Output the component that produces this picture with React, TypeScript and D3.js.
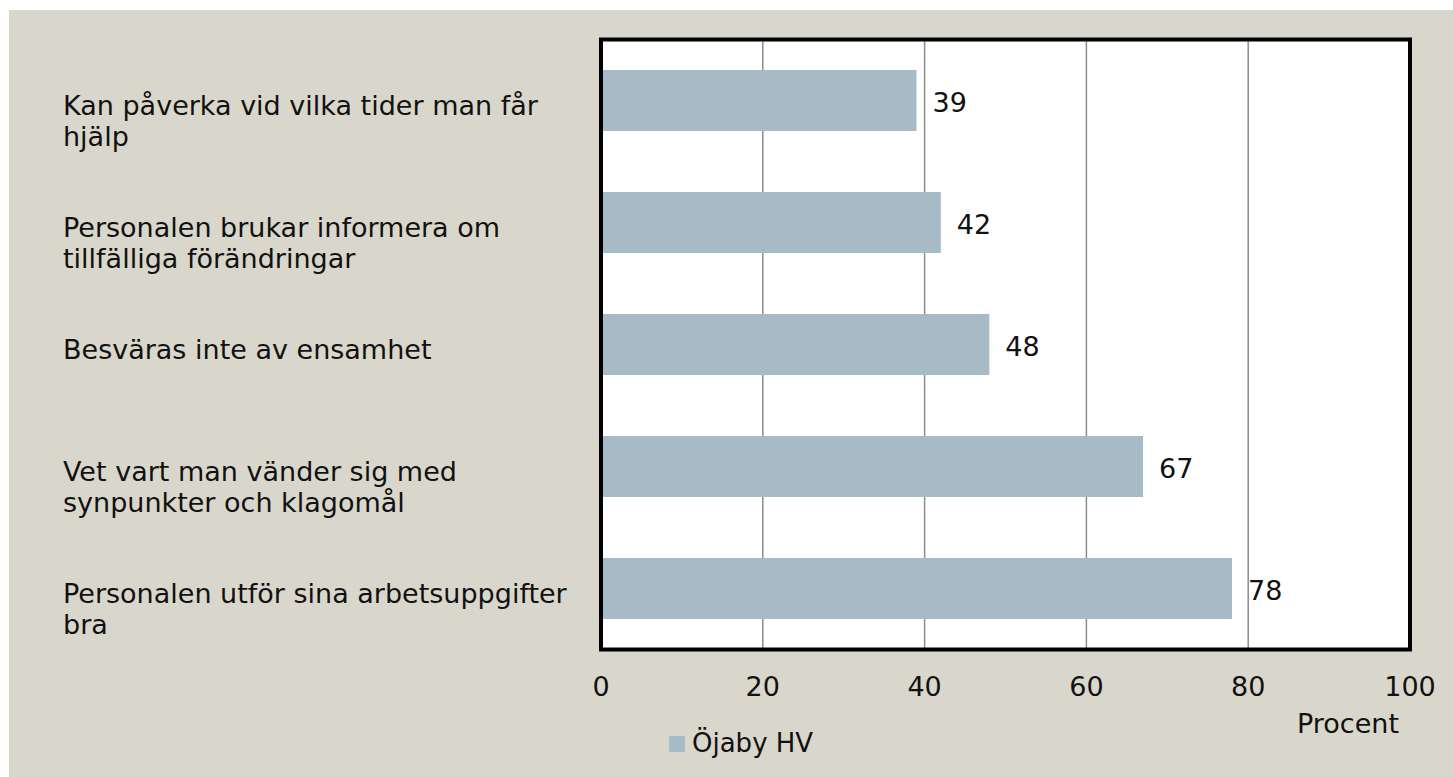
import { scaleBand, scaleLinear } from 'd3'

const categories = [
  'Kan påverka vid vilka tider man får hjälp',
  'Personalen brukar informera om tillfälliga förändringar',
  'Besväras inte av ensamhet',
  'Vet vart man vänder sig med synpunkter och klagomål',
  'Personalen utför sina arbetsuppgifter bra',
]
const categoryLines = [
  ['Kan påverka vid vilka tider man får', 'hjälp'],
  ['Personalen brukar informera om', 'tillfälliga förändringar'],
  ['Besväras inte av ensamhet'],
  ['Vet vart man vänder sig med', 'synpunkter och klagomål'],
  ['Personalen utför sina arbetsuppgifter', 'bra'],
]
const values = [39, 42, 48, 67, 78]
const ticks = [0, 20, 40, 60, 80, 100]
const seriesName = 'Öjaby HV'
const axisTitle = 'Procent'

export default function App() {
  const width = 1453
  const height = 777
  const font = 'DejaVu Sans, sans-serif'
  const left = 601
  const right = 1410
  const top = 39.5
  const bottom = 649.5

  const x = scaleLinear().domain([0, 100]).range([left, right])
  const y = scaleBand<string>().domain(categories).range([top, bottom]).paddingInner(0.5).paddingOuter(0.25)

  return (
    <div style={{ position: 'absolute', left: 0, top: 0 }}>
      <svg width={width} height={height} style={{ display: 'block', fontFamily: font }}>
        <rect x={9} y={10} width={width - 9} height={height - 10} fill="#d9d7cc" />
        <rect x={left} y={top} width={right - left} height={bottom - top} fill="#ffffff" />
        {ticks.slice(1, -1).map((t) => (
          <line key={t} x1={x(t)} x2={x(t)} y1={top} y2={bottom} stroke="#8c8c8c" strokeWidth={1.5} />
        ))}
        {categories.map((c, i) => (
          <rect key={c} x={x(0)} y={y(c)} width={x(values[i]) - x(0)} height={y.bandwidth()} fill="#a7bbc6" />
        ))}
        <rect x={left} y={top} width={right - left} height={bottom - top} fill="none" stroke="#000" strokeWidth={4} />
        {categories.map((c, i) => (
          <text key={c} x={x(values[i]) + 16} y={(y(c) ?? 0) + y.bandwidth() / 2 + 11} fontSize={27} fill="#111">
            {values[i]}
          </text>
        ))}
        {categories.map((c, i) => {
          const center = (y(c) ?? 0) + y.bandwidth() / 2
          return (
            <text key={c} x={63} y={center + 14} fontSize={27} fill="#111">
              {categoryLines[i].map((line, k) => (
                <tspan key={k} x={63} dy={k === 0 ? 0 : 31.7}>
                  {line}
                </tspan>
              ))}
            </text>
          )
        })}
        {ticks.map((t) => (
          <text key={t} x={x(t)} y={696} fontSize={27} textAnchor="middle" fill="#111">
            {t}
          </text>
        ))}
        <text x={1348} y={733} fontSize={27} textAnchor="middle" fill="#111">
          {axisTitle}
        </text>
        <rect x={669} y={736} width={16} height={16} fill="#a7bbc6" />
        <text x={692} y={752} fontSize={26} fill="#111">
          {seriesName}
        </text>
      </svg>
    </div>
  )
}
